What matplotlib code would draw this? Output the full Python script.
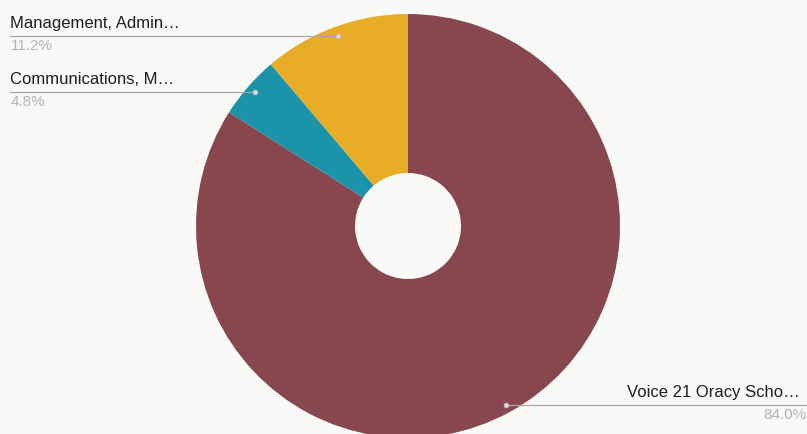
import numpy as np
import matplotlib.pyplot as plt

# data: order clockwise from 12 o'clock
labels = ["Voice 21 Oracy Scho…", "Communications, M…", "Management, Admin…"]
shares = [84.0, 4.8, 11.2]
colors = ["#88464f", "#1b93a9", "#e8ac27"]

W, H = 807, 434
fig = plt.figure(figsize=(W / 100, H / 100), dpi=100, facecolor="#f9f9f8")
ax = fig.add_axes([0, 0, 1, 1])

cx, cy, R = 408, H - 226, 212
wedges, _ = ax.pie(shares, colors=colors, startangle=90, counterclock=False,
                   center=(cx, cy), radius=R, frame=True,
                   wedgeprops=dict(width=R - 53, linewidth=0))
ax.set_xlim(0, W)
ax.set_ylim(0, H)
ax.set_aspect("equal")
ax.axis("off")

# leader lines: (text x, line y in px from top, side)
callouts = {
    0: (807, 405, "right"),
    1: (10, 92, "left"),
    2: (10, 36, "left"),
}
for i, w in enumerate(wedges):
    mid = np.deg2rad((w.theta1 + w.theta2) / 2)
    px = cx + 0.955 * R * np.cos(mid)
    tx, ly, ha = callouts[i]
    ly = H - ly
    ax.plot([px, tx], [ly, ly], color="#a8a8a8", lw=0.9, zorder=3)
    ax.plot(px, ly, "o", ms=3.5, color="#d8d8d8", mec="#c0c0c0", mew=0.5, zorder=4)
    ax.text(tx - 7 if ha == "right" else tx, ly + 5, labels[i], ha=ha, va="bottom",
            fontsize=12, color="#1e1e1e", family="Liberation Sans")
    ax.text(tx - 1 if ha == "right" else tx + 1, ly - 3, f"{shares[i]:.1f}%", ha=ha, va="top",
            fontsize=11, color="#b4b4b4", family="Liberation Sans")

fig.savefig("out.png", dpi=100, facecolor=fig.get_facecolor())
